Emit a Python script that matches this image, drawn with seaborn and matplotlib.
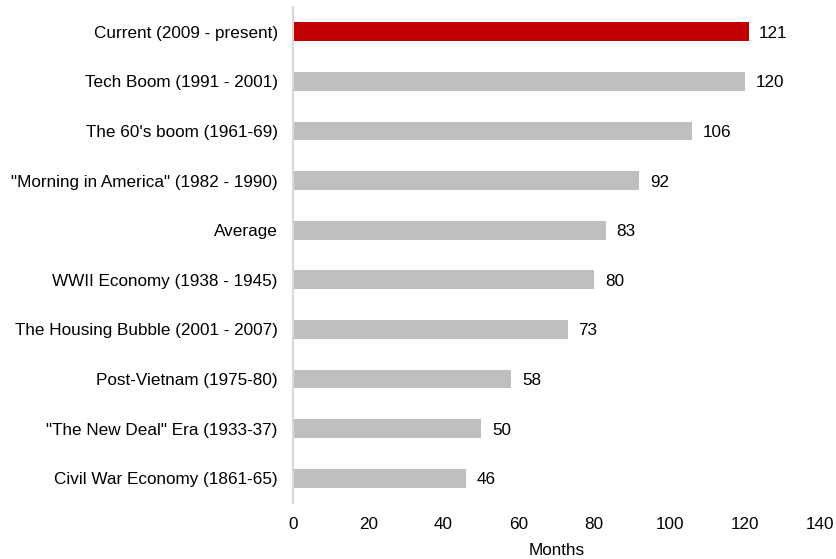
import matplotlib
matplotlib.use("Agg")
import matplotlib.pyplot as plt
import seaborn as sns
import pandas as pd

periods = [
    "Current (2009 - present)",
    "Tech Boom (1991 - 2001)",
    "The 60's boom (1961-69)",
    "\"Morning in America\" (1982 - 1990)",
    "Average",
    "WWII Economy (1938 - 1945)",
    "The Housing Bubble (2001 - 2007)",
    "Post-Vietnam (1975-80)",
    "\"The New Deal\" Era (1933-37)",
    "Civil War Economy (1861-65)",
]
months = [121, 120, 106, 92, 83, 80, 73, 58, 50, 46]
x_ticks = [0, 20, 40, 60, 80, 100, 120, 140]

df = pd.DataFrame({"period": periods, "months": months})
colors = ["#C00000"] + ["#BFBFBF"] * (len(periods) - 1)

sns.set_theme(style="white")
plt.rcParams["font.family"] = ["Liberation Sans", "DejaVu Sans"]
fs = 12.3

fig = plt.figure(figsize=(8.36, 5.59), dpi=100)
ax = fig.add_axes([0.3505, 0.1002, 0.6305, 0.8873])

sns.barplot(data=df, x="months", y="period", hue="period", palette=colors,
            legend=False, orient="h", width=0.38, linewidth=0, ax=ax, saturation=1)

for i, v in enumerate(months):
    ax.text(v + 2.8, i + 0.03, str(v), va="center", ha="left", fontsize=fs, color="#000000")

ax.set_xlim(0, 140)
ax.set_ylim(len(periods) - 0.5, -0.5)
ax.set_xticks(x_ticks)
ax.set_xticklabels([str(t) for t in x_ticks], fontsize=fs)
ax.tick_params(axis="y", labelsize=fs, length=0, pad=11, colors="#000000")
ax.tick_params(axis="x", length=0, pad=10, colors="#000000")
ax.set_ylabel("")
ax.set_xlabel("Months", fontsize=fs, labelpad=8, color="#000000")

for s in ["top", "right", "bottom"]:
    ax.spines[s].set_visible(False)
ax.spines["left"].set_color("#D9D9D9")
ax.spines["left"].set_linewidth(1.5)

fig.savefig("out.png", dpi=100)
